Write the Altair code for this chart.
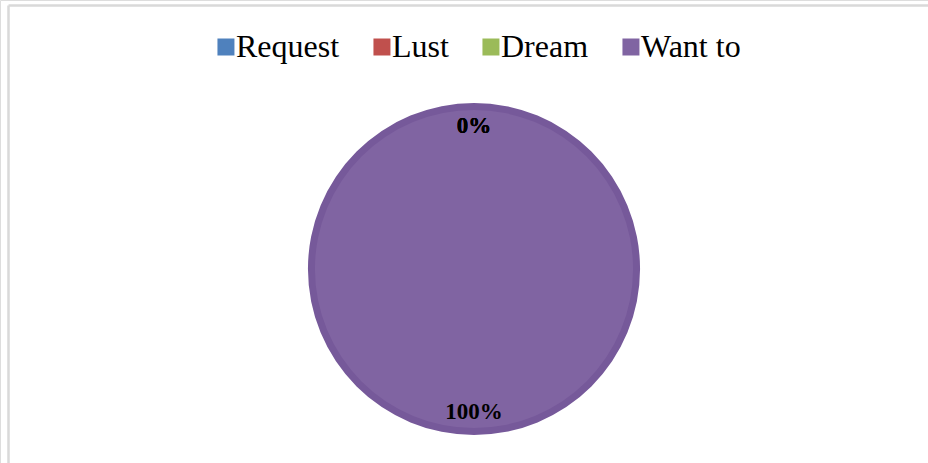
import altair as alt
import pandas as pd

categories = ["Request", "Lust", "Dream", "Want to"]
values = [0, 0, 0, 100]
labels = ["0%", "0%", "0%", "100%"]
colors = ["#4F81BD", "#C0504D", "#9BBB59", "#8064A2"]

df = pd.DataFrame({
    "category": categories,
    "value": values,
    "label": labels,
    "idx": list(range(len(categories))),
})

CX, CY = 474, 269

base = alt.Chart(df).encode(
    theta=alt.Theta("value:Q", stack=True),
    order=alt.Order("idx:Q"),
)

outer = base.mark_arc(radius=166, x=CX, y=CY, color="#76599A")
inner = base.mark_arc(radius=159, x=CX, y=CY).encode(
    color=alt.Color(
        "category:N",
        scale=alt.Scale(domain=categories, range=colors),
        sort=categories,
        legend=alt.Legend(
            title=None,
            orient="none",
            legendX=204,
            legendY=31,
            direction="horizontal",
            columns=4,
            symbolType="M-0.3,-1H1.7V1H-0.3Z",
            symbolSize=289,
            symbolStrokeWidth=0,
            symbolOpacity=1,
            labelFont="Liberation Serif",
            labelFontSize=32,
            labelColor="#000000",
            labelOffset=0,
            columnPadding=20,
            padding=0,
            labelLimit=300,
        ),
    )
)
text = base.mark_text(
    radius=143, x=CX, y=CY, font="Liberation Serif", fontWeight="bold",
    fontSize=23, color="#000000", baseline="middle", align="center",
).encode(text="label:N")

frame = alt.Chart(pd.DataFrame({"k": [0]}))
left_rule = frame.mark_rule(color="#D9D9D9", strokeWidth=2.5).encode(
    x=alt.value(8.5), y=alt.value(5.5), y2=alt.value(463)
)
top_rule = frame.mark_rule(color="#D9D9D9", strokeWidth=2.5).encode(
    x=alt.value(8.5), x2=alt.value(928), y=alt.value(5.5)
)

chart = alt.layer(left_rule, top_rule, outer, inner, text).properties(
    width=928, height=463, autosize=alt.AutoSizeParams(type="none"), padding=0
).configure_view(stroke=None).configure(background="#FFFFFF")

chart.save("out.html", embed_options={"renderer": "svg", "actions": False})
